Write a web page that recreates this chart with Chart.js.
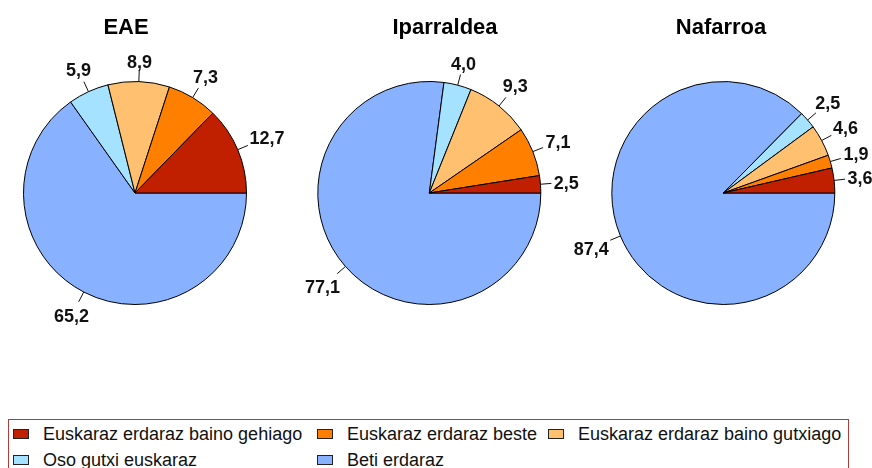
<!DOCTYPE html>
<html>
<head>
<meta charset="utf-8">
<script src="https://cdn.jsdelivr.net/npm/chart.js@4/dist/chart.umd.min.js"></script>
<style>
  html, body { margin: 0; padding: 0; background: #fff; }
  #wrap { position: relative; width: 872px; height: 468px; overflow: hidden; font-family: "Liberation Sans", Arial, sans-serif; }
  canvas { position: absolute; left: 0; top: 0; }
  #legend { position: absolute; left: 8px; top: 419px; width: 841px; height: 70px; border: 1px solid #b43a3a; box-sizing: border-box; }
  .sw { position: absolute; width: 16px; height: 10px; border: 1px solid #222; box-sizing: border-box; }
  .lt { position: absolute; font-size: 18px; line-height: 20px; height: 20px; white-space: nowrap; color: #111; }
</style>
</head>
<body>
<div id="wrap">
  <canvas id="c0" width="872" height="340"></canvas>
  <canvas id="c1" width="872" height="340"></canvas>
  <canvas id="c2" width="872" height="340"></canvas>
  <div id="legend"></div>
</div>
<script>
// ---- data ----
const categories = ['Euskaraz erdaraz baino gehiago', 'Euskaraz erdaraz beste', 'Euskaraz erdaraz baino gutxiago', 'Oso gutxi euskaraz', 'Beti erdaraz'];
const regions = ['EAE', 'Iparraldea', 'Nafarroa'];
const eaeValues = [12.7, 7.3, 8.9, 5.9, 65.2];
const iparraldeaValues = [2.5, 7.1, 9.3, 4.0, 77.1];
const nafarroaValues = [3.6, 1.9, 4.6, 2.5, 87.4];

// ---- styles / layout ----
const colors = ['#c02000', '#ff8000', '#ffc070', '#a4e2ff', '#88b2ff'];
const seriesList = [eaeValues, iparraldeaValues, nafarroaValues];
const pieCenters = [135, 429.3, 723.3];
const titleX = [126, 445, 721];
const pieCY = 193, pieR = 111.5, canvasW = 872, canvasH = 340;

function fmt(v) { return v.toFixed(1).replace('.', ','); }

const labelPlugin = {
  id: 'pieLabels',
  afterDatasetsDraw(chart, args, opts) {
    const ctx = chart.ctx;
    const meta = chart.getDatasetMeta(0);
    const data = chart.data.datasets[0].data;
    ctx.save();
    ctx.font = 'bold 18px "Liberation Sans", Arial, sans-serif';
    ctx.fillStyle = '#111';
    ctx.strokeStyle = '#111';
    ctx.lineWidth = 1;
    meta.data.forEach((arc, i) => {
      const p = arc.getProps(['x', 'y', 'startAngle', 'endAngle', 'outerRadius'], true);
      const mid = (p.startAngle + p.endAngle) / 2;
      const dx = Math.cos(mid), dy = Math.sin(mid);
      const R = p.outerRadius;
      ctx.beginPath();
      ctx.moveTo(p.x + dx * R, p.y + dy * R);
      ctx.lineTo(p.x + dx * (R + 11), p.y + dy * (R + 11));
      ctx.stroke();
      const txt = fmt(data[i]);
      const w = ctx.measureText(txt).width;
      const h = 13;
      const d = R + 13 + Math.abs(dx) * w / 2 + Math.abs(dy) * h / 2;
      const lx = p.x + dx * d, ly = p.y + dy * d;
      ctx.textAlign = 'center';
      ctx.textBaseline = 'alphabetic';
      ctx.fillText(txt, lx, ly + 6.4);
    });
    // title
    ctx.font = 'bold 22px "Liberation Sans", Arial, sans-serif';
    ctx.textAlign = 'center';
    ctx.textBaseline = 'alphabetic';
    ctx.fillStyle = '#000';
    ctx.fillText(opts.title, opts.tx, 26 + 7.9);
    ctx.restore();
  }
};

regions.forEach((name, k) => {
  const cx = pieCenters[k];
  const vals = seriesList[k].slice().reverse();
  const cols = colors.slice().reverse();
  new Chart(document.getElementById('c' + k), {
    type: 'pie',
    data: {
      labels: categories.slice().reverse(),
      datasets: [{ data: vals, backgroundColor: cols, borderColor: '#000', borderWidth: 1 }]
    },
    options: {
      responsive: false,
      animation: false,
      events: [],
      devicePixelRatio: 1,
      rotation: 90,
      radius: pieR,
      layout: { padding: { left: cx - pieR, right: canvasW - cx - pieR, top: pieCY - pieR, bottom: canvasH - pieCY - pieR } },
      plugins: {
        legend: { display: false },
        tooltip: { enabled: false },
        title: { display: false },
        pieLabels: { title: name, tx: titleX[k] }
      }
    },
    plugins: [labelPlugin]
  });
});

// ---- legend ----
const legend = document.getElementById('legend');
const colX = [13, 317, 548];
const rowY = [433.5, 459.5];
const slots = [[0, 0], [1, 0], [2, 0], [0, 1], [1, 1]];
categories.forEach((c, i) => {
  const [col, row] = slots[i];
  const sw = document.createElement('div');
  sw.className = 'sw';
  sw.style.left = (colX[col] - 9) + 'px';
  sw.style.top = (rowY[row] - 5 - 420) + 'px';
  sw.style.background = colors[i];
  legend.appendChild(sw);
  const t = document.createElement('div');
  t.className = 'lt';
  t.textContent = c;
  t.style.left = (colX[col] + 30 - 9) + 'px';
  t.style.top = (rowY[row] - 9.8 - 420) + 'px';
  legend.appendChild(t);
});
</script>
</body>
</html>
